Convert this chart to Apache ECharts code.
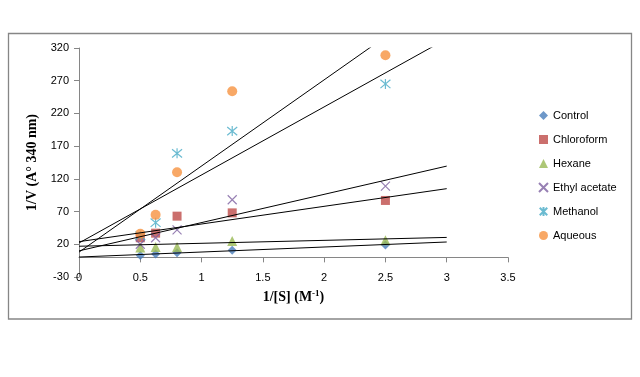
<!DOCTYPE html>
<html>
<head>
<meta charset="utf-8">
<script src="https://cdn.jsdelivr.net/npm/echarts@6/dist/echarts.min.js"></script>
<style>
  html, body { margin: 0; padding: 0; background: #fff; }
  #chart { width: 640px; height: 377px; }
</style>
</head>
<body>
<div id="chart"></div>
<script>
// ── Data ──
const invS = [0.5, 0.625, 0.8, 1.25, 2.5];           // 1/[S] (M^-1)

const control     = [3, 5, 7, 11, 19];
const chloroform  = [30, 37, 63, 68, 87];
const hexane      = [15, 16, 16, 25, 26];
const ethylAcetate = [20, 30, 42, 88, 109];
const methanol    = [33, 53, 159, 193, 265];
const aqueous     = [36, 65, 130, 254, 309];

// Trendlines (Excel linear, forecast to x = 3): value at x = 0 and at x = 3
const trendX     = [0, 3];
const trendStart = [0.5, 24, 17, 10, 22, 8];
const trendEnd   = [23.5, 105, 30.5, 139.5, 334, 403];

const names = ['Control', 'Chloroform', 'Hexane', 'Ethyl acetate', 'Methanol', 'Aqueous'];
const values = [control, chloroform, hexane, ethylAcetate, methanol, aqueous];

// ── Marker looks (Excel 2007 palette) ──
const markers = [
  { symbol: 'diamond', size: 9,  color: '#4A7EBB' },
  { symbol: 'rect',    size: 9,  color: '#BE4B48' },
  { symbol: 'triangle', size: 10, color: '#98B954' },
  { symbol: 'path://M0,0L10,10M10,0L0,10', size: 9, color: 'none', stroke: '#7D60A0' },
  { symbol: 'path://M0,0L10,10M10,0L0,10M5,-1L5,11', size: 10, color: 'none', stroke: '#46AAC5' },
  { symbol: 'circle',  size: 10, color: '#F69240' },
];

const font = 'Liberation Sans, Arial, sans-serif';
const serif = 'Liberation Serif, Times New Roman, serif';

const scatterSeries = names.map((name, i) => {
  const m = markers[i];
  return {
    name,
    type: 'scatter',
    symbol: m.symbol,
    symbolSize: m.size,
    z: 2,
    itemStyle: m.stroke
      ? { color: 'rgba(0,0,0,0)', borderColor: m.stroke, borderWidth: 1.2 }
      : { color: m.color },
    data: invS.map((x, k) => [x, values[i][k]]),
  };
});

const trendSeries = names.map((name, i) => ({
  name: name + ' trend',
  type: 'line',
  symbol: 'none',
  silent: true,
  clip: true,
  z: 3,
  lineStyle: { color: '#000', width: 1 },
  data: trendX.map((x, k) => [x, k === 0 ? trendStart[i] : trendEnd[i]]),
}));

const chart = echarts.init(document.getElementById('chart'));

chart.setOption({
  animation: false,
  backgroundColor: '#fff',
  graphic: [{
    type: 'rect',
    shape: { x: 8.5, y: 33.5, width: 623, height: 285.5 },
    style: { fill: 'none', stroke: '#868686', lineWidth: 1.3 },
    silent: true,
  }],
  grid: { left: 79, right: 132, top: 48, bottom: 100 },
  legend: {
    orient: 'vertical',
    left: 533,
    top: 105,
    itemWidth: 9,
    itemHeight: 9,
    itemGap: 13,
    data: names,
    textStyle: { fontFamily: font, fontSize: 11, color: '#000' },
  },
  xAxis: {
    type: 'value',
    min: 0, max: 3.5, interval: 0.5,
    axisLine: { show: true, onZero: true, lineStyle: { color: '#868686', width: 1 } },
    axisTick: { show: true, length: 5, lineStyle: { color: '#868686' } },
    axisLabel: { margin: -5, fontFamily: font, fontSize: 11, color: '#000' },
    splitLine: { show: false },
    name: '1/[S] (M{sup|-1})',
    nameLocation: 'middle',
    nameGap: 12,
    nameTextStyle: {
      fontFamily: serif, fontSize: 14, fontWeight: 'bold', color: '#000',
      rich: {
        sup: { fontFamily: serif, fontSize: 9, fontWeight: 'bold', color: '#000',
               verticalAlign: 'top', padding: [0, 0, 7, 0] },
      },
    },
  },
  yAxis: {
    type: 'value',
    min: -30, max: 320, interval: 50,
    axisLine: { show: true, onZero: false, lineStyle: { color: '#868686', width: 1 } },
    axisTick: { show: true, length: 5, lineStyle: { color: '#868686' } },
    axisLabel: { margin: 10, fontFamily: font, fontSize: 11, color: '#000' },
    splitLine: { show: false },
    name: '1/V (A° 340 nm)',
    nameLocation: 'middle',
    nameRotate: 90,
    nameGap: 33,
    nameTextStyle: { fontFamily: serif, fontSize: 14, fontWeight: 'bold', color: '#000' },
  },
  series: [...scatterSeries, ...trendSeries],
});
</script>
</body>
</html>
